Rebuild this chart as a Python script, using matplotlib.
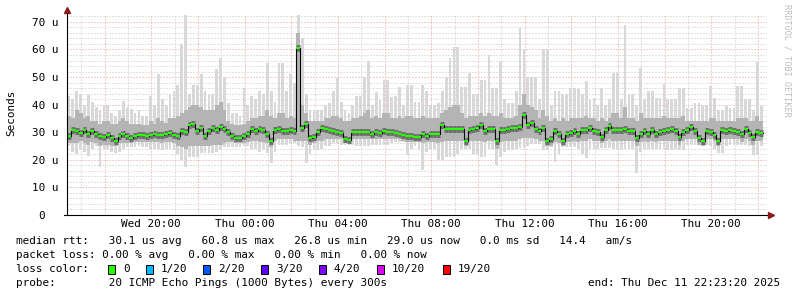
import matplotlib
matplotlib.use("Agg")
import matplotlib.pyplot as plt
import matplotlib.dates as mdates
from matplotlib.ticker import MultipleLocator, FuncFormatter
from matplotlib.patches import Rectangle
import numpy as np
import pandas as pd

# ---------------- data (10-minute bins, values in microseconds) ----------------
start = pd.Timestamp("2025-12-10 16:23:20")
end = pd.Timestamp("2025-12-11 22:23:20")

median_rtt = [
    28.5, 30.8, 30.5, 29.8, 30.8, 29.2, 30.5, 29.5, 28.8, 28.2,
    29, 28, 27, 28.5, 29.5, 28.5, 28, 28.5, 29, 29,
    28.8, 29, 29.2, 29, 29, 29.5, 29.6, 29, 28.7, 30.5,
    30, 32.5, 33, 30.5, 31.5, 28.8, 30.5, 31.5, 30.8, 32,
    31, 30, 28.5, 28, 28, 28.5, 29.5, 31, 30.5, 31,
    30.8, 29.5, 27, 30.8, 31.3, 30.5, 30.3, 30.8, 30.5, 60.5,
    31.5, 33, 28, 28.4, 30.2, 31.4, 31, 30.8, 30.5, 30,
    29.8, 27.5, 27.2, 30.2, 30.2, 30.2, 30, 30, 29.5, 30,
    29.8, 30.5, 30, 30.2, 29.6, 29.3, 29, 28.8, 28.6, 28.4,
    28.4, 29.3, 28.5, 29.2, 29.5, 29.2, 32.5, 31.2, 31.2, 31.2,
    31.2, 31.2, 27, 30.7, 31, 31.5, 32.8, 30.5, 31.2, 31.2,
    27, 30.8, 30.8, 31, 31.4, 31.4, 32, 36.3, 32.5, 33.5,
    31, 30.5, 31.5, 27, 27.5, 30.5, 29.5, 26.8, 29.2, 29.6,
    30.3, 29.3, 30.8, 30.8, 31.4, 30.6, 30, 28.3, 30.8, 32.3,
    30.8, 30.8, 30.8, 31, 30.6, 30.5, 28, 29.2, 30.3, 29.5,
    30.8, 29.2, 30, 30.3, 30.8, 31, 30.5, 28.2, 30, 30.8,
    31.8, 30.5, 28, 27, 30.5, 30, 29, 27, 30.8, 30.5,
    30.8, 30.5, 30, 29.2, 31, 29.8, 28.2, 30.2, 29.6,
]

ping_max = [
    43, 42, 45, 44, 40, 43.5, 41, 39, 38, 40,
    40, 37, 36, 38, 41.5, 39, 38.5, 37, 38, 36,
    36, 43, 40, 51, 42, 40, 44, 45, 47, 62,
    73, 44, 47, 47, 51, 45, 44, 44, 53, 57,
    50, 40.5, 37, 37, 36, 46, 40, 43, 42, 45,
    44, 55, 45, 41, 55, 55, 45, 51, 48, 73,
    64, 44, 38, 38, 38, 38, 40, 40.5, 45, 49.6,
    41, 38, 37, 40, 43, 43, 50, 56, 40, 44.6,
    41.7, 49, 49, 42.8, 43, 46.5, 40, 47, 47, 41,
    41, 47, 45, 40, 40, 40.5, 45, 50, 57, 61,
    61, 46.5, 46.5, 51.4, 44, 44, 48.9, 48.9, 58, 46,
    46, 55.5, 42, 40.5, 40.5, 45, 67.8, 60, 50, 50,
    50, 42, 60, 60, 40, 45, 45, 43.7, 43.7, 46,
    46, 45.5, 44, 48.5, 42, 42.5, 40, 46, 40, 42,
    51.5, 51.5, 42, 68.8, 43.7, 43.7, 40, 53.4, 42, 45,
    45, 42.5, 42.5, 47.5, 42, 42, 42, 46, 46, 38.8,
    38.8, 40.6, 40.6, 40, 40, 46.7, 42.5, 38, 38, 39.4,
    38.8, 38.8, 46.7, 46.7, 42, 42, 38, 55.3, 39.4,
]

ping_min = [
    25, 23, 22, 24, 23, 21.5, 24, 25, 17.5, 24,
    24, 23, 22.5, 23, 24, 24.5, 24.5, 24.5, 25, 24.5,
    24.5, 24, 24, 24, 23.5, 24, 24, 23.5, 22, 20,
    17.5, 21, 21, 21, 22.5, 22.5, 22.5, 22.5, 23, 23.5,
    24.5, 24.8, 24.8, 24.8, 24.8, 25, 25, 24, 24, 23,
    24, 22.5, 19, 23, 25.5, 25.5, 25.5, 26, 26, 25,
    24.5, 19, 22, 23.5, 23.5, 24, 25, 25, 26, 26,
    25.5, 25.5, 25.5, 25.5, 25, 25, 25, 25, 25.5, 25.5,
    25.4, 25.4, 25.4, 26, 26.5, 26.5, 26.5, 21.8, 24, 25,
    24, 16.3, 23, 24, 24, 20, 20, 21, 21.2, 21.2,
    22, 24, 24, 24, 22, 22, 21.2, 21.2, 24, 24,
    18.1, 21, 23, 23.6, 23.6, 24, 24.2, 24.2, 25, 25.9,
    25.9, 25.9, 23.6, 23.6, 24.5, 19.3, 22, 24.8, 24.8, 24.8,
    24.5, 24, 22, 20.6, 24, 24, 24, 24.2, 24.2, 24.2,
    24, 24, 24, 24, 24, 24, 15.2, 23, 24, 24,
    24, 24, 24, 24, 23.6, 23.6, 24, 23.6, 23.6, 25.4,
    25.4, 25.4, 25.4, 25.4, 25.4, 25, 24, 22.4, 22.4, 25,
    25.4, 25.4, 25.4, 25.4, 25.4, 25, 21.8, 21.8, 25,
]

ping_hi = [
    36, 35, 38, 37, 35, 36, 34, 34, 33, 34,
    34, 33, 33, 34, 35, 34, 33, 33, 33, 32.5,
    32.5, 34, 33, 35, 34, 33.5, 35, 35, 36, 37,
    38, 39, 40, 40, 39, 38, 38, 38, 40, 41,
    38, 34, 33, 32.5, 32.5, 33, 34, 35, 35, 36,
    36, 38, 36, 35, 37, 37, 35, 36, 35, 66,
    40, 37, 34, 34, 34, 34, 35, 35, 36, 36,
    35, 34, 34, 35, 35, 36, 37, 38, 35, 36,
    35, 37, 37, 35, 35, 36, 35, 36, 36, 35,
    35, 36, 35, 35, 35, 35, 37, 38, 39, 40,
    40, 37, 35, 36, 36, 36, 37, 36, 37, 36,
    36, 37, 35, 35, 35, 36, 40, 44, 40, 39,
    38, 35, 38, 36, 34, 35, 34, 35, 34, 35,
    35, 35, 35, 36, 35, 35, 34, 35, 34, 35,
    37, 37, 35, 39, 35, 35, 34, 37, 35, 35,
    35, 35, 35, 36, 35, 35, 35, 35, 36, 34,
    34, 34, 34, 34, 34, 35, 35, 34, 34, 34,
    34, 34, 35, 35, 35, 34, 34, 36, 34,
]

ping_lo = [
    26, 26, 26, 27, 26, 25.5, 26.5, 26, 25, 25.5,
    25.5, 25, 25, 26, 26, 26, 26, 26.5, 26.5, 26.5,
    26.5, 26.5, 26.5, 26.5, 26, 26.5, 26.5, 26, 25, 24.5,
    24, 25, 25, 25, 25, 25, 25, 25.5, 25.5, 25.5,
    26, 26.5, 26.5, 26, 26, 26, 26.5, 27, 27, 26.5,
    26.5, 26, 24.5, 27, 27.5, 27.5, 27.5, 27.5, 27, 27,
    27, 27, 25.5, 26, 27, 27, 27.5, 27.5, 27.5, 27.5,
    27.5, 26, 26, 27.5, 27.5, 27.5, 27.5, 27.5, 27.5, 27.5,
    27.5, 27.5, 27.5, 27.5, 27.5, 27.5, 27, 26.5, 26.5, 26.5,
    26.5, 26, 26.5, 26.5, 26.5, 26, 26.5, 27, 27, 27,
    27, 27, 25, 27, 27, 27, 27, 26.5, 27, 27,
    24, 26.5, 27, 27, 27, 27, 27.5, 28, 28, 28,
    27.5, 27, 27, 25, 25, 26.5, 26, 25, 26.5, 26.5,
    27, 26.5, 27, 27, 27.5, 27, 27, 26, 27, 27.5,
    27, 27, 27, 27, 27, 27, 25, 26.5, 27, 26.5,
    27, 26.5, 27, 27, 27, 27, 27, 25.5, 27, 27.5,
    27.5, 27.5, 25.5, 25, 27.5, 27.5, 27, 25, 27.5, 27.5,
    27.5, 27.5, 27.5, 26.5, 27.5, 27, 25.5, 27, 27,
]

y_ticks = [0, 10, 20, 30, 40, 50, 60, 70]
y_tick_labels = ["0  ", "10 u", "20 u", "30 u", "40 u", "50 u", "60 u", "70 u"]

loss_labels = ["0", "1/20", "2/20", "3/20", "4/20", "10/20", "19/20"]
loss_colors = ["#26ff00", "#00b8ff", "#0059ff", "#5e00ff", "#7e00ff", "#dd00ff", "#ff0000"]

line_rtt = "median rtt:   30.1 us avg   60.8 us max   26.8 us min   29.0 us now   0.0 ms sd   14.4   am/s"
line_loss = "packet loss: 0.00 % avg   0.00 % max   0.00 % min   0.00 % now"
line_probe = "probe:        20 ICMP Echo Pings (1000 Bytes) every 300s"
line_end = "end: Thu Dec 11 22:23:20 2025"

# ---------------- figure ----------------
plt.rcParams["font.family"] = ["DejaVu Sans Mono"]
FS = 7.9
W, H = 797, 297
fig = plt.figure(figsize=(W / 100, H / 100), dpi=100)
fig.patch.set_facecolor("white")
ax = fig.add_axes([67 / W, 82 / H, 700 / W, 200 / H])

step = pd.Timedelta(minutes=10)
t = pd.date_range(start, periods=len(median_rtt), freq="10min")
tn = mdates.date2num(t.to_pydatetime())
wd = step / pd.Timedelta(days=1)

mx = np.array(ping_max); mn = np.array(ping_min)
hi = np.array(ping_hi); lo = np.array(ping_lo); med = np.array(median_rtt)

# smoke
ax.bar(tn + wd * 0.15, mx - mn, bottom=mn, width=wd * 0.7, align="edge",
       color="#d8d8d8", linewidth=0, zorder=2)
ax.bar(tn, hi - lo, bottom=lo, width=wd, align="edge", color="#b4b4b4", linewidth=0, zorder=3)
# dark core of the smoke around the median
ax.hlines(med, tn, tn + wd, color="#707070", lw=5.0, zorder=3.5)

# median line (black step) and loss colour segments
edges = np.append(tn, tn[-1] + wd)
ax.plot(edges, np.append(med, med[-1]), drawstyle="steps-post", color="black", lw=0.8, zorder=4)
ax.hlines(med, tn, tn + wd, color=loss_colors[0], lw=1.5, zorder=5)

ax.set_xlim(mdates.date2num(start.to_pydatetime()), mdates.date2num(end.to_pydatetime()))
ax.set_ylim(0, 72.5)

# grids
ax.xaxis.set_major_locator(mdates.HourLocator(byhour=range(0, 24, 2)))
ax.xaxis.set_minor_locator(mdates.HourLocator())
def fmt(v, p):
    d = mdates.num2date(v)
    return d.strftime("%a %H:%M") if d.hour % 4 == 0 else ""
ax.xaxis.set_major_formatter(FuncFormatter(fmt))
ax.set_yticks(y_ticks)
ax.set_yticklabels(y_tick_labels)
ax.yaxis.set_minor_locator(MultipleLocator(2))
ax.set_axisbelow(True)
ax.grid(which="minor", color="#c4c4c4", lw=0.72, ls=(0, (1, 2)), zorder=0)
ax.grid(which="major", color="#e89a9a", lw=0.72, ls=(0, (1, 2)), zorder=1)
ax.tick_params(which="both", length=0, labelsize=FS)
ax.tick_params(axis="y", pad=6.1)
ax.tick_params(axis="x", pad=3.0)

for s in ax.spines.values():
    s.set_visible(False)
# axes lines with arrows
ax.plot([-0.004, 1.004], [0, 0], transform=ax.transAxes, color="black", lw=0.8, clip_on=False, zorder=6)
ax.plot([0, 0], [0, 1.02], transform=ax.transAxes, color="black", lw=0.8, clip_on=False, zorder=6)
ax.plot([1.006], [0], transform=ax.transAxes, marker=">", ms=4, color="#8b1a1a", clip_on=False, zorder=7)
ax.plot([0], [1.025], transform=ax.transAxes, marker="^", ms=4, color="#8b1a1a", clip_on=False, zorder=7)

# labels
fig.text(11 / W, 1 - 113 / H, "Seconds", rotation=90, ha="center", va="center", fontsize=FS)
fig.text(787 / W, 1 - 4 / H, "RRDTOOL / TOBI OETIKER", rotation=-90, ha="center", va="top",
         fontsize=6.1, color="#bdbdbd")

# legend / summary
def fy(y):
    return 1 - y / H
fig.text(16 / W, fy(241.5), line_rtt, ha="left", va="center", fontsize=FS)
fig.text(16 / W, fy(255.3), line_loss, ha="left", va="center", fontsize=FS)
fig.text(16 / W, fy(269), "loss color:", ha="left", va="center", fontsize=FS)
sw_x = [108.3, 145.7, 203.3, 261, 319, 376.7, 442.7]
for x, c, lab in zip(sw_x, loss_colors, loss_labels):
    fig.add_artist(Rectangle((x / W, fy(273.5)), 7 / W, 9 / H, transform=fig.transFigure,
                             facecolor=c, edgecolor="black", lw=0.7))
    fig.text((x + 15) / W, fy(269), lab, ha="left", va="center", fontsize=FS)
fig.text(16 / W, fy(283), line_probe, ha="left", va="center", fontsize=FS)
fig.text(780 / W, fy(283), line_end, ha="right", va="center", fontsize=FS)

fig.savefig("out.png", dpi=100, facecolor="white")
